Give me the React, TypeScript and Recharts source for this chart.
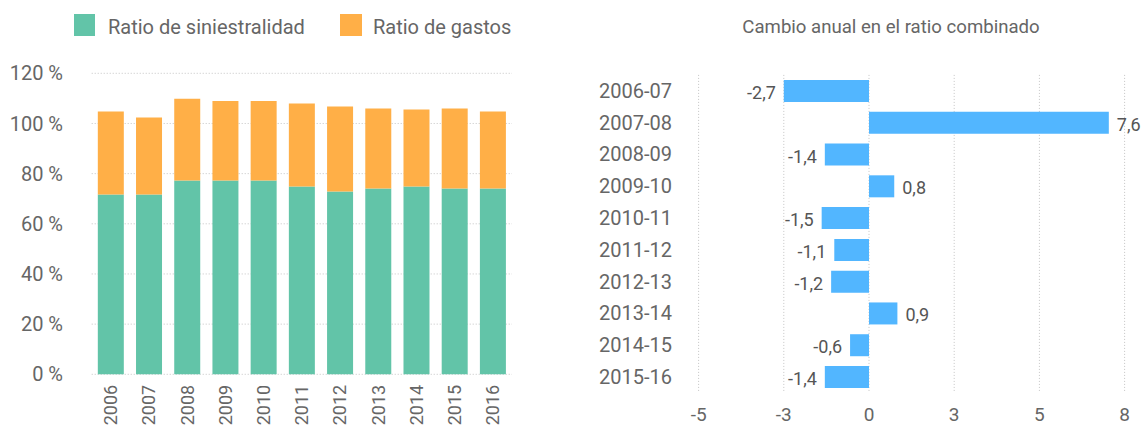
import React from 'react';
import { BarChart, Bar, XAxis, YAxis, CartesianGrid, Legend, LabelList } from 'recharts';

const years = ['2006', '2007', '2008', '2009', '2010', '2011', '2012', '2013', '2014', '2015', '2016'];
const siniestralidad = [71.7, 71.7, 77.3, 77.3, 77.3, 74.9, 72.9, 74.1, 74.9, 74.1, 74.1];
const gastos = [33.1, 30.7, 32.6, 31.7, 31.7, 33.1, 33.9, 31.9, 30.7, 31.9, 30.7];
const leftTicks = [0, 20, 40, 60, 80, 100, 120];

const periods = ['2006-07', '2007-08', '2008-09', '2009-10', '2010-11', '2011-12', '2012-13', '2013-14', '2014-15', '2015-16'];
const cambio = [-2.7, 7.6, -1.4, 0.8, -1.5, -1.1, -1.2, 0.9, -0.6, -1.4];
const rightTicks = [-5.4, -2.7, 0, 2.7, 5.4, 8.1];

const GREEN = '#62C4A8';
const ORANGE = '#FFAF47';
const BLUE = '#52B6FF';
const TEXT = '#666666';
const GRID = '#c4c4c4';
const FONT = 'Roboto, sans-serif';

const leftData = years.map((y, i) => ({ year: y, siniestralidad: siniestralidad[i], gastos: gastos[i] }));
const rightData = periods.map((p, i) => ({ period: p, cambio: cambio[i] }));

const LeftLegend = () => (
  <div style={{ position: 'relative', width: 560, height: 73.3, fontFamily: FONT }}>
    <div style={{ position: 'absolute', left: 73.5, top: 14, width: 21.5, height: 21.7, background: GREEN }} />
    <span style={{ position: 'absolute', left: 108, top: 16.5, fontSize: 20, lineHeight: 1, color: TEXT, whiteSpace: 'nowrap' }}>
      Ratio de siniestralidad
    </span>
    <div style={{ position: 'absolute', left: 340, top: 14, width: 21.5, height: 21.7, background: ORANGE }} />
    <span style={{ position: 'absolute', left: 373, top: 16.5, fontSize: 20, lineHeight: 1, color: TEXT, whiteSpace: 'nowrap' }}>
      Ratio de gastos
    </span>
  </div>
);

const RotTick = (props: any) => {
  const { x, y, payload } = props;
  return (
    <g transform={`translate(${x},${y + 10.5})`}>
      <text transform="rotate(-90)" textAnchor="end" dy="0.355em" fill={TEXT} fontSize={18} fontFamily={FONT}>
        {payload.value}
      </text>
    </g>
  );
};

const ValueLabel = (props: any) => {
  const { x, y, width, height, value } = props;
  const left = Math.min(x, x + width);
  const right = Math.max(x, x + width);
  const cy = y + height / 2;
  const neg = value < 0;
  return (
    <text
      x={neg ? left - 8 : right + 8}
      y={cy}
      dy={8}
      textAnchor={neg ? 'end' : 'start'}
      fill="#555555"
      fontSize={18}
      fontFamily={FONT}
    >
      {String(value).replace('.', ',')}
    </text>
  );
};

export default function App() {
  return (
    <div style={{ position: 'absolute', left: 0, top: 0, width: 1145, height: 426, fontFamily: FONT, background: '#fff' }}>
      <div style={{ position: 'absolute', left: 0, top: 0 }}>
        <BarChart width={560} height={426} data={leftData} margin={{ top: 0, right: 48, bottom: 0, left: 31.7 }} barCategoryGap="16%">
          <Legend verticalAlign="top" wrapperStyle={{ left: 0, top: 0, width: 560, height: 73.3 }} content={<LeftLegend />} />
          <CartesianGrid vertical={false} stroke={GRID} strokeDasharray="1 2" />
          <XAxis dataKey="year" axisLine={false} tickLine={false} tickSize={0} tickMargin={0} height={51.7} interval={0} tick={<RotTick />} />
          <YAxis
            domain={[0, 120]}
            ticks={leftTicks}
            width={60}
            tickSize={0}
            tickMargin={28.7}
            axisLine={false}
            tickLine={false}
            tick={{ fill: TEXT, fontSize: 20, fontFamily: FONT }}
            tickFormatter={(v: number) => `${v} %`}
          />
          <Bar dataKey="siniestralidad" stackId="a" fill={GREEN} isAnimationActive={false} />
          <Bar dataKey="gastos" stackId="a" fill={ORANGE} isAnimationActive={false} />
        </BarChart>
      </div>
      <div
        style={{
          position: 'absolute',
          left: 891,
          top: 17.8,
          transform: 'translateX(-50%)',
          fontSize: 18.6,
          lineHeight: 1,
          color: TEXT,
          whiteSpace: 'nowrap',
        }}
      >
        Cambio anual en el ratio combinado
      </div>
      <div style={{ position: 'absolute', left: 560, top: 0 }}>
        <BarChart
          layout="vertical"
          width={585}
          height={426}
          data={rightData}
          margin={{ top: 74.9, right: 20.4, bottom: 0, left: 38.6 }}
          barCategoryGap="16%"
        >
          <CartesianGrid horizontal={false} stroke={GRID} strokeDasharray="1 2" />
          <XAxis
            type="number"
            domain={[-5.4, 8.1]}
            ticks={rightTicks}
            tickFormatter={(v: number) => String(Math.round(v))}
            height={33.3}
            tickSize={0}
            tickMargin={15}
            axisLine={false}
            tickLine={false}
            tick={{ fill: TEXT, fontSize: 19, fontFamily: FONT }}
          />
          <YAxis
            type="category"
            dataKey="period"
            width={100}
            tickSize={0}
            tickMargin={26.6}
            axisLine={false}
            tickLine={false}
            interval={0}
            tick={{ fill: TEXT, fontSize: 20, fontFamily: FONT }}
          />
          <Bar dataKey="cambio" fill={BLUE} isAnimationActive={false}>
            <LabelList dataKey="cambio" content={<ValueLabel />} />
          </Bar>
        </BarChart>
      </div>
    </div>
  );
}
